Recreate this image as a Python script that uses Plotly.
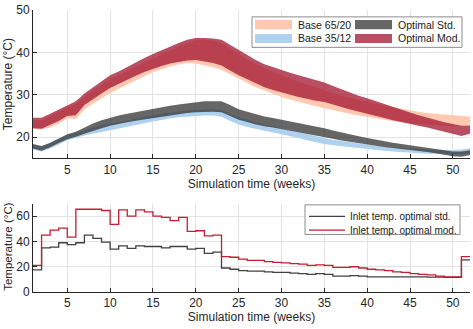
import plotly.graph_objects as go

weeks = list(range(1, 53))

# Top panel bands (lower / upper), weekly values
base6520_up = [24.0, 24.0, 25.0, 26.0, 27.0, 27.8, 29.5, 31.0, 32.3, 33.6, 34.6, 35.6, 36.6, 37.6, 38.5, 39.5,
               40.4, 41.3, 42.2, 42.8, 43.0, 42.8, 42.2, 41.0, 39.6, 38.4, 37.3, 36.3, 35.4, 34.6, 33.8, 33.1,
               32.4, 31.7, 31.0, 30.4, 29.8, 29.3, 28.8, 28.3, 27.9, 27.5, 27.1, 26.7, 26.3, 26.0, 25.7, 25.5,
               25.3, 25.2, 25.0, 24.8]
base6520_lo = [22.0, 21.8, 22.3, 23.2, 24.4, 24.2, 26.6, 28.0, 29.2, 30.4, 31.4, 32.4, 33.4, 34.4, 35.3, 36.0,
               36.7, 37.2, 37.5, 37.4, 37.0, 36.5, 35.9, 34.9, 33.8, 32.8, 31.8, 31.0, 30.2, 29.5, 28.9, 28.3,
               27.8, 27.3, 26.8, 26.3, 25.9, 25.5, 25.1, 24.7, 24.4, 24.1, 23.8, 23.5, 23.3, 23.1, 22.9, 22.8,
               22.7, 22.6, 22.5, 22.5]
base3512_up = [18.2, 17.7, 18.5, 19.5, 20.5, 21.0, 21.7, 22.3, 22.8, 23.2, 23.6, 24.0, 24.4, 24.8, 25.2, 25.5,
               25.8, 26.1, 26.3, 26.5, 26.6, 26.6, 26.4, 25.5, 24.7, 24.1, 23.5, 23.0, 22.5, 22.0, 21.6, 21.2,
               20.7, 20.2, 19.8, 19.4, 19.1, 18.8, 18.5, 18.2, 18.0, 17.8, 17.6, 17.4, 17.3, 17.2, 17.1, 17.0,
               17.0, 17.0, 17.1, 17.4]
base3512_lo = [17.1, 16.6, 17.3, 18.3, 19.3, 19.8, 20.4, 20.9, 21.3, 21.6, 22.0, 22.5, 22.9, 23.3, 23.7, 24.1,
               24.4, 24.7, 24.9, 25.0, 25.1, 25.1, 24.8, 23.8, 23.0, 22.4, 21.9, 21.5, 21.1, 20.7, 20.3, 19.8,
               19.3, 18.8, 18.4, 18.1, 17.8, 17.6, 17.4, 17.2, 17.0, 16.8, 16.6, 16.4, 16.3, 16.2, 16.1, 16.0,
               16.0, 16.0, 16.0, 16.2]
optstd_up = [18.4, 17.9, 18.7, 19.8, 20.7, 21.3, 22.3, 23.2, 24.0, 24.6, 25.1, 25.5, 25.9, 26.3, 26.7, 27.0,
             27.4, 27.7, 28.0, 28.3, 28.5, 28.5, 28.5, 27.6, 26.6, 26.0, 25.4, 24.9, 24.5, 24.1, 23.7, 23.3,
             22.9, 22.6, 22.1, 21.6, 21.1, 20.6, 20.2, 19.8, 19.4, 19.0, 18.7, 18.4, 18.1, 17.8, 17.5, 17.2,
             16.9, 16.6, 16.6, 16.9]
optstd_lo = [17.3, 16.8, 17.6, 18.6, 19.5, 20.1, 20.8, 21.5, 22.1, 22.7, 23.1, 23.5, 23.9, 24.3, 24.6, 24.9,
             25.2, 25.4, 25.7, 25.9, 26.0, 26.0, 25.9, 25.0, 24.1, 23.6, 23.0, 22.6, 22.3, 22.0, 21.6, 21.2,
             20.8, 20.4, 20.0, 19.6, 19.2, 18.8, 18.5, 18.3, 18.0, 17.7, 17.4, 17.2, 17.0, 16.8, 16.5, 16.2,
             15.9, 15.5, 15.4, 15.8]
optmod_up = [24.6, 24.6, 25.5, 26.5, 27.6, 28.5, 30.3, 31.8, 33.2, 34.6, 35.5, 36.6, 37.6, 38.7, 39.6, 40.5,
             41.4, 42.2, 43.0, 43.4, 43.4, 43.3, 43.0, 41.8, 40.4, 39.3, 38.2, 37.2, 36.5, 35.8, 35.2, 34.6,
             34.0, 33.4, 32.9, 32.1, 31.3, 30.5, 29.8, 29.2, 28.5, 27.8, 27.1, 26.4, 25.8, 25.2, 24.6, 24.0,
             23.5, 23.1, 22.7, 22.7]
optmod_lo = [22.1, 22.0, 22.8, 23.8, 25.0, 25.2, 27.6, 29.0, 30.3, 31.6, 32.5, 33.5, 34.5, 35.4, 36.1, 36.8,
             37.4, 37.8, 38.1, 38.2, 37.9, 37.5, 36.9, 35.7, 34.6, 33.6, 32.7, 31.8, 31.1, 30.5, 30.0, 29.5,
             29.0, 28.6, 28.3, 27.7, 27.1, 26.5, 25.9, 25.4, 25.0, 24.5, 24.0, 23.5, 23.1, 22.7, 22.3, 21.9,
             21.4, 20.8, 20.3, 20.8]

# Bottom panel: weekly inlet temperatures (stairs)
inlet_std = [17.5, 35, 35.5, 39, 37.5, 39, 45, 42.5, 39.5, 34, 36.5, 34.5, 36.5, 36, 36, 35, 36, 36, 34, 34.5,
             30.5, 31.5, 19, 18, 17, 16.5, 16.5, 16, 15.5, 15.5, 15, 14.5, 14, 14.5, 14, 12.5, 12.5, 13, 12.5,
             12, 12, 12, 12, 12, 12, 12, 11.8, 11.8, 11.5, 11.5, 25.5, 25.5]
inlet_mod = [21, 45, 49, 50.5, 43.5, 65.5, 65.5, 65.5, 64.5, 53.5, 65, 60, 65, 63.5, 60, 59, 56.5, 59, 48, 48.5,
             44.5, 45, 28, 27.5, 26, 25, 25, 24, 23.5, 23, 22.5, 22, 21, 21.5, 21, 19.5, 19.5, 20, 19, 18,
             17.5, 17, 16, 15.5, 14.5, 14, 13.5, 12.5, 12, 12, 28, 28]

band_names = ["Base 65/20", "Base 35/12", "Optimal Std.", "Optimal Mod."]
band_colors = ["#FFC8B0", "#AED1F0", "rgba(51,51,51,0.75)", "rgba(162,20,47,0.75)"]
inlet_names = ["Inlet temp. optimal std.", "Inlet temp. optimal mod."]
inlet_colors = ["#404040", "#C41E30"]

FONT = "Liberation Sans, Arial, sans-serif"
TXT = "#262626"

W, H = 473, 329
ML, MR, MT, MB = 33, 3, 5, 37
PW, PH = W - ML - MR, H - MT - MB


def px2x(px):
    return (px - ML) / PW


def py2y(py):
    return (H - MB - py) / PH


fig = go.Figure()

bands = [(base6520_lo, base6520_up), (base3512_lo, base3512_up), (optstd_lo, optstd_up), (optmod_lo, optmod_up)]
for (lo, up), name, col in zip(bands, band_names, band_colors):
    fig.add_trace(go.Scatter(
        x=weeks + weeks[::-1], y=up + lo[::-1], fill="toself", fillcolor=col,
        line=dict(width=0, color=col), mode="lines", name=name, showlegend=False,
        hoverinfo="skip", xaxis="x", yaxis="y"))

for ys, name, col in zip([inlet_std, inlet_mod], inlet_names, inlet_colors):
    fig.add_trace(go.Scatter(x=weeks, y=ys, mode="lines", line=dict(shape="hv", color=col, width=1.3),
                             name=name, showlegend=False, xaxis="x2", yaxis="y2"))

axis_common = dict(showline=True, linecolor="#262626", linewidth=1, ticks="inside", ticklen=4,
                   tickcolor="#262626", showgrid=True, gridcolor="#E3E3E3", gridwidth=1, zeroline=False,
                   tickfont=dict(family=FONT, size=12, color=TXT), mirror=False, ticklabeloverflow="allow")
xt = [5, 10, 15, 20, 25, 30, 35, 40, 45, 50]

shapes = []
annotations = []

# Legend 1 (manual, two columns)
shapes.append(dict(type="rect", xref="paper", yref="paper", x0=px2x(252), x1=px2x(462), y0=py2y(43), y1=py2y(12),
                   line=dict(color="#8C8C8C", width=1), fillcolor="white", layer="above"))
leg1_pos = [(255, 20.0), (255, 34.0), (355, 20.0), (355, 34.0)]
for (lx, ly), name, col in zip(leg1_pos, band_names, band_colors):
    shapes.append(dict(type="rect", xref="paper", yref="paper", x0=px2x(lx), x1=px2x(lx + 37),
                       y0=py2y(ly + 4.7), y1=py2y(ly - 4.7), line=dict(width=0), fillcolor=col, layer="above"))
    annotations.append(dict(text=name, x=px2x(lx + 40.5), y=py2y(ly), xref="paper", yref="paper",
                            xanchor="left", yanchor="middle", showarrow=False,
                            font=dict(family=FONT, size=10.5, color="#1a1a1a")))

# Legend 2 (manual)
shapes.append(dict(type="rect", xref="paper", yref="paper", x0=px2x(305), x1=px2x(460), y0=py2y(233.5),
                   y1=py2y(203.3), line=dict(color="#8C8C8C", width=1), fillcolor="white", layer="above"))
leg2_pos = [(309, 215.0), (309, 229.0)]
for (lx, ly), name, col in zip(leg2_pos, inlet_names, inlet_colors):
    shapes.append(dict(type="line", xref="paper", yref="paper", x0=px2x(lx), x1=px2x(lx + 36),
                       y0=py2y(ly), y1=py2y(ly), line=dict(color=col, width=1.3), layer="above"))
    annotations.append(dict(text=name, x=px2x(lx + 39), y=py2y(ly), xref="paper", yref="paper",
                            xanchor="left", yanchor="middle", showarrow=False,
                            font=dict(family=FONT, size=10, color="#1a1a1a")))

# y-axis titles
annotations.append(dict(text="Temperature (°C)", x=px2x(8), y=py2y(80.5), xref="paper", yref="paper",
                        xanchor="center", yanchor="middle", textangle=-90, showarrow=False,
                        font=dict(family=FONT, size=12, color=TXT)))
annotations.append(dict(text="Temperature (°C)", x=px2x(8), y=py2y(246), xref="paper", yref="paper",
                        xanchor="center", yanchor="middle", textangle=-90, showarrow=False,
                        font=dict(family=FONT, size=11.5, color=TXT)))

fig.update_layout(
    width=W, height=H, margin=dict(l=ML, r=MR, t=MT, b=MB),
    paper_bgcolor="white", plot_bgcolor="white",
    font=dict(family=FONT, color=TXT),
    showlegend=False,
    xaxis=dict(domain=[0, 1], range=[1, 52], tickvals=xt, anchor="y",
               title=dict(text="Simulation time (weeks)", standoff=3,
                          font=dict(family=FONT, size=12, color=TXT)), **axis_common),
    yaxis=dict(domain=[py2y(156), 1], range=[15, 50], tickvals=[20, 30, 40, 50], anchor="x", **axis_common),
    xaxis2=dict(domain=[0, 1], range=[1, 52], tickvals=xt, anchor="y2",
                title=dict(text="Simulation time (weeks)", standoff=3,
                           font=dict(family=FONT, size=12, color=TXT)), **axis_common),
    yaxis2=dict(domain=[0, py2y(202)], range=[0, 70], tickvals=[0, 20, 40, 60], anchor="x2", **axis_common),
    shapes=shapes,
    annotations=annotations,
)

fig.write_html("out.html")
